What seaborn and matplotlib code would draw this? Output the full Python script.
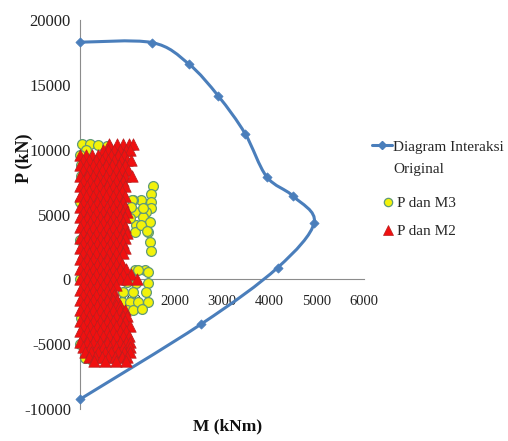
import numpy as np
import pandas as pd
import matplotlib
matplotlib.use("Agg")
import matplotlib.pyplot as plt
from matplotlib.path import Path
from matplotlib.patches import PathPatch
from matplotlib.lines import Line2D
import seaborn as sns

# interaction diagram (M, P)
m_int = [0, 1522, 2301, 2926, 3488, 3943, 4505, 4947, 4175, 2561, 0]
p_int = [18290, 18260, 16600, 14120, 11240, 7920, 6410, 4370, 900, -3450, -9250]

# P dan M3 (yellow circles)
m3 = [40, 210, 390, 560, 120, 0, 30, 20, 0, 10, 0, 20, 0, 100, 250,
      1544, 1509, 1509, 1298, 1123, 1088, 1509, 1404, 1158, 1333, 1474, 1193,
      1158, 1438, 1474, 1509, 1280, 1080, 1050, 1420, 1330,
      1158, 1368, 1228, 1438, 983, 1193, 1438, 912, 1123, 1404,
      877, 1053, 1228, 1438, 983, 1123, 1300]
p3 = [10400, 10450, 10350, 10300, 10000, 9600, 8800, 8000, 6000, 3000, 0, -3000, -5000, -6100, -6200,
      7230, 6600, 5950, 6100, 6130, 6080, 5500, 5210, 5210, 4800, 4440, 4160,
      3680, 3680, 2910, 2150, 4200, 5600, 4700, 3700, 5500,
      710, 710, 710, 590, -180, -310, -310, -940, -940, -940,
      -1710, -1710, -1710, -1710, -2400, -2400, -2300]

# P dan M2 (red triangles), one P level per row
p2_rows = [10400, 10000, 9600, 9200, 8800, 8400, 8000, 7600, 7200, 6800, 6400, 6000,
           5600, 5200, 4800, 4400, 4000, 3600, 3200, 2800, 2400, 2000, 1600, 1200,
           800, 400, 0, -400, -800, -1200, -1600, -2000, -2400, -2800, -3200, -3600,
           -4000, -4400, -4800, -5200, -5600, -6000, -6300]
m2_rows = [
    [620, 780, 900, 1030, 1120],
    [480, 600, 720, 850, 980, 1060],
    [0, 120, 260, 390, 520, 650, 800, 930],
    [60, 190, 330, 460, 590, 720, 860, 1000, 1080],
    [0, 130, 270, 400, 540, 680, 820, 960],
    [60, 200, 330, 470, 610, 750, 890, 1010],
    [0, 140, 280, 410, 550, 690, 830, 950, 1100],
    [70, 210, 350, 480, 620, 760, 900],
    [0, 140, 280, 420, 560, 700, 840, 960],
    [60, 200, 340, 480, 620, 760, 880],
    [0, 130, 270, 410, 550, 690, 830, 950],
    [70, 210, 350, 490, 630, 770, 900],
    [0, 140, 280, 420, 560, 700, 840, 960],
    [60, 200, 340, 480, 620, 760, 900, 1000],
    [0, 140, 280, 420, 560, 700, 840, 960],
    [70, 210, 350, 490, 630, 770, 910],
    [0, 140, 280, 420, 560, 700, 840, 950],
    [60, 200, 340, 480, 620, 760, 900, 1000],
    [0, 140, 280, 420, 560, 700, 840, 950],
    [70, 210, 350, 490, 630, 770, 900],
    [0, 140, 280, 420, 560, 700, 840, 960],
    [60, 200, 340, 480, 620, 760, 900],
    [0, 140, 280, 420, 560, 700, 830],
    [70, 210, 350, 490, 630, 770, 880],
    [0, 140, 280, 420, 560, 700, 840, 980],
    [60, 200, 340, 480, 620, 760, 900, 1080],
    [0, 140, 280, 420, 560, 700, 840, 1000, 1200],
    [70, 210, 350, 490, 630, 760],
    [0, 140, 280, 420, 560, 700],
    [60, 200, 340, 480, 620, 720],
    [0, 140, 280, 420, 560, 700, 780],
    [70, 210, 350, 490, 630, 760, 850],
    [0, 140, 280, 420, 560, 700, 840, 950],
    [60, 200, 340, 480, 620, 760, 900, 1000],
    [0, 140, 280, 420, 560, 700, 840, 960],
    [70, 210, 350, 490, 630, 770, 900, 1050],
    [0, 140, 280, 420, 560, 700, 840, 980],
    [60, 200, 340, 480, 620, 760, 900, 1040],
    [0, 140, 280, 420, 560, 700, 840, 980, 1060],
    [70, 210, 350, 490, 630, 770, 910, 1050],
    [100, 240, 380, 520, 660, 800, 940, 1060],
    [180, 320, 460, 600, 740, 880, 1000],
    [300, 520, 760, 980],
]

x_ticks = [1000, 2000, 3000, 4000, 5000, 6000]
y_ticks = [-10000, -5000, 0, 5000, 10000, 15000, 20000]

m2 = [m for row in m2_rows for m in row]
p2 = [p for p, row in zip(p2_rows, m2_rows) for _ in row]
df2 = pd.DataFrame({"M": m2, "P": p2})
df3 = pd.DataFrame({"M": m3, "P": p3})
df_int = pd.DataFrame({"M": m_int, "P": p_int})

sns.set_style("white")
plt.rcParams['font.family'] = ['Liberation Serif', 'DejaVu Serif']
plt.rcParams['axes.unicode_minus'] = False

blue = '#4a7ebb'
fig = plt.figure(figsize=(5.08, 4.41), dpi=100)
ax = fig.add_axes([0.1575, 0.0726, 0.559, 0.882])


def smooth_path(xs, ys):
    # Excel-style smoothed line (cubic bezier through the points)
    pts = np.column_stack([xs, ys]).astype(float)
    n = len(pts)
    verts = [pts[0]]
    codes = [Path.MOVETO]
    for i in range(n - 1):
        a = pts[i - 1] if i > 0 else pts[i]
        b = pts[i]
        c = pts[i + 1]
        d = pts[i + 2] if i + 2 < n else pts[i + 1]
        verts += [b + (c - a) / 6, c - (d - b) / 6, c]
        codes += [Path.CURVE4] * 3
    return Path(verts, codes)


ax.add_patch(PathPatch(smooth_path(m_int, p_int), fill=False, edgecolor=blue,
                       lw=2.2, zorder=3, capstyle='round'))
sns.scatterplot(data=df_int, x="M", y="P", marker="D", s=22, color=blue,
                edgecolor=blue, linewidth=0.5, zorder=3.1, ax=ax, clip_on=False)
sns.scatterplot(data=df3, x="M", y="P", marker="o", s=50, color="#f2f20a",
                edgecolor="#5f9a78", linewidth=0.9, zorder=4, ax=ax, clip_on=False)
sns.scatterplot(data=df2, x="M", y="P", marker="^", s=68, color="#f01010",
                edgecolor="#b82020", linewidth=0.5, zorder=5, ax=ax, clip_on=False)

ax.set_xlim(0, 6000)
ax.set_ylim(-10000, 20000)
ax.set_axisbelow(True)
ax.spines['top'].set_visible(False)
ax.spines['right'].set_visible(False)
ax.spines['bottom'].set_position(('data', 0))
for s in ['left', 'bottom']:
    ax.spines[s].set_color('#8c8c8c')
    ax.spines[s].set_linewidth(0.8)
ax.set_xticks(x_ticks)
ax.set_yticks(y_ticks)
ax.tick_params(axis='x', direction='out', length=3.5, width=0.8, color='#8c8c8c',
               labelsize=10.5, labelcolor='#222222', pad=8)
ax.tick_params(axis='y', direction='out', length=3.5, width=0.8, color='#8c8c8c',
               labelsize=12, labelcolor='#222222', pad=3)

ax.set_xlabel("M (kNm)", fontsize=12.5, fontweight='bold', color='#111111')
ax.set_ylabel("P (kN)", fontsize=13, fontweight='bold', color='#111111')
ax.xaxis.set_label_coords(0.52, -0.025)
ax.yaxis.set_label_coords(-0.165, 0.645)

h_line = Line2D([], [], color=blue, lw=2.2, marker='D', ms=4.5)
fig.legend(handles=[h_line], labels=['Diagram Interaksi'], loc='center left',
           bbox_to_anchor=(372 / 508, 1 - 147 / 441), frameon=False, borderpad=0,
           borderaxespad=0, handlelength=1.3, handletextpad=0.08, fontsize=11)
fig.text(393 / 508, 1 - 170 / 441, 'Original', fontsize=11, va='center', ha='left')

h_m3 = Line2D([], [], ls='none', marker='o', ms=6, mfc='#f2f20a', mec='#5f9a78', mew=0.9)
h_m2 = Line2D([], [], ls='none', marker='^', ms=6.5, mfc='#f01010', mec='#b82020', mew=0.5)
fig.legend(handles=[h_m3, h_m2], labels=['P dan M3', 'P dan M2'], loc='center left',
           bbox_to_anchor=(382 / 508, 1 - 217.5 / 441), frameon=False, borderpad=0,
           borderaxespad=0, handlelength=0.8, handletextpad=0.2, labelspacing=0.95,
           fontsize=11)

fig.savefig("out.png", dpi=100)
